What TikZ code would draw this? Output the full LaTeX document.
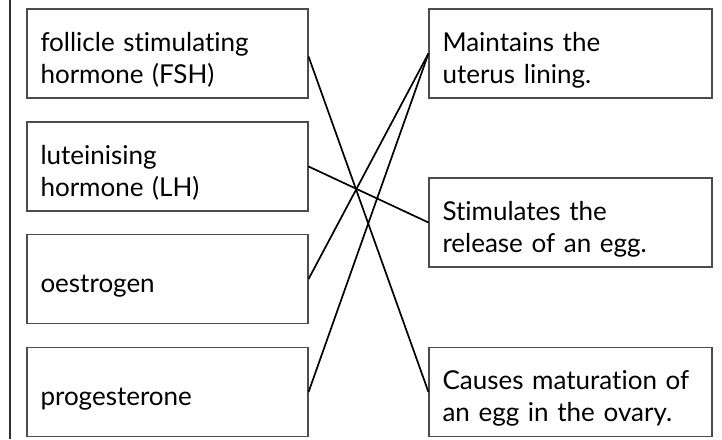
\documentclass[tikz,border=0pt]{standalone}
\usepackage{fontspec}
\setmainfont{Lato}[Ligatures=NoCommon]
\tikzset{
  hbox/.style={draw=black!70, line width=1.1pt, minimum height=89pt,
    inner xsep=13.5pt, align=left, font=\fontsize{26}{32}\selectfont,
    execute at begin node={\rule{0pt}{32pt}}},
  lbox/.style={hbox, text width=254pt},
  rbox/.style={hbox, text width=256pt},
  link/.style={line width=1.7pt, black}
}
\begin{document}
\begin{tikzpicture}[x=1pt,y=-1pt]
  \useasboundingbox (0,0) rectangle (722,439);
  \draw[line width=2.6pt, black!80] (10,0) -- (10,439);
  \draw
    (167.5,53.5) node[lbox] (fsh){follicle stimulating\\hormone (FSH)}
    (167.5,166.5) node[lbox] (lh){luteinising\\hormone (LH)}
    (167.5,279) node[lbox] (oes){oestrogen}
    (167.5,392) node[lbox] (pro){progesterone}
    (570.5,53.5) node[rbox] (lining){Maintains the\\uterus lining.}
    (570.5,222.5) node[rbox] (release){Stimulates the\\release of an egg.}
    (570.5,392) node[rbox] (matur){Causes maturation of\\an egg in the ovary.};
  \begin{scope}[link]
    \draw ([yshift=-3pt]fsh.east) to (matur.west);
    \draw (lh.east) to (release.west);
    \draw (oes.east) to (lining.west);
    \draw (pro.east) to (lining.west);
  \end{scope}
\end{tikzpicture}
\end{document}
